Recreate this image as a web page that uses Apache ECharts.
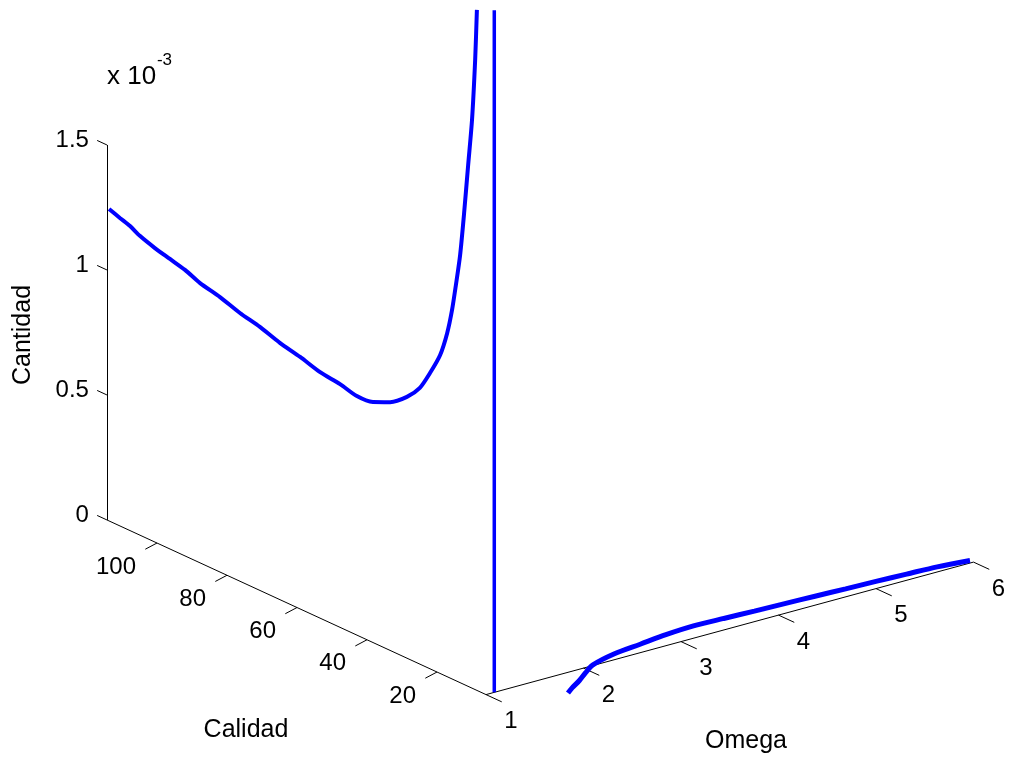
<!DOCTYPE html>
<html><head><meta charset="utf-8">
<script src="https://cdn.jsdelivr.net/npm/echarts@6/dist/echarts.min.js"></script>
<style>html,body{margin:0;padding:0;background:#fff}#chart{width:1012px;height:762px}</style>
</head><body><div id="chart"></div>
<script>
// ---------------- data ----------------
const calidadTicks = [20, 40, 60, 80, 100];
const omegaTicks = [1, 2, 3, 4, 5, 6];
const cantidadTicks = [0, 0.5e-3, 1.0e-3, 1.5e-3];
const cantidadTickLabels = ['0', '0.5', '1', '1.5'];
const calidadRange = [6, 114.3];
const omegaRange = [1, 6];
const cantidadRange = [0, 1.5e-3];

// segment 1 : curve in the Omega = 1 plane
const seg1Calidad = [113.7,110.6,107.7,104.9,100.6,96.3,92.0,87.7,82.0,76.3,70.6,64.9,59.1,53.4,47.7,42.9,38.3,33.4,28.6,24.9,22.0,19.1,17.1,15.7,14.6,13.4,12.3,11.1,10.0,9.1,8.6];
const seg1Omega   = [1,1,1,1,1,1,1,1,1,1,1,1,1,1,1,1,1,1,1,1,1,1,1,1,1,1,1,1,1,1,1];
const seg1Cantidad = [1.248e-3,1.232e-3,1.218e-3,1.197e-3,1.176e-3,1.160e-3,1.144e-3,1.119e-3,1.100e-3,1.073e-3,1.054e-3,1.027e-3,1.008e-3,0.984e-3,0.973e-3,0.956e-3,0.962e-3,0.993e-3,1.045e-3,1.105e-3,1.183e-3,1.274e-3,1.374e-3,1.476e-3,1.583e-3,1.710e-3,1.878e-3,2.085e-3,2.272e-3,2.518e-3,2.722e-3];

// segment 2 : vertical branch
const seg2Calidad = [6, 6];
const seg2Omega = [1.085, 1.085];
const seg2Cantidad = [0, 2.728e-3];

// segment 3 : branch on the floor
const seg3Omega    = [1.55,1.65,1.8,1.95,2.1,2.4,2.7,3.0,3.3,3.6,3.9,4.2,4.5,4.8,5.1,5.4,5.7,6.0];
const seg3Calidad  = [-2.1,-0.5,1.6,4.0,6.2,8.3,9.3,10.3,10.8,10.5,10.1,9.8,9.5,9.1,8.8,8.4,8.0,7.0];
const seg3Cantidad = [0,0,0,0,0,0,0,0,0,0,0,0,0,0,0,0,0,0];

// ---------------- view (orthographic projection) ----------------
const VIEW = { origin: [486, 694.6], perCalidad: [-3.5, -1.6125], perOmega: [97.5, -26.5], perCantidad: [0, -250000] };
function proj(c, w, z) {
  const u = c - calidadRange[0], v = w - omegaRange[0];
  return [
    VIEW.origin[0] + u * VIEW.perCalidad[0] + v * VIEW.perOmega[0] + z * VIEW.perCantidad[0],
    VIEW.origin[1] + u * VIEW.perCalidad[1] + v * VIEW.perOmega[1] + z * VIEW.perCantidad[1]
  ];
}
function seg(cs, ws, zs) { return cs.map((c, i) => proj(c, ws[i], zs[i])); }

const FONT = 'Liberation Sans, Arial, Helvetica, sans-serif';
const BLUE = '#0000ff';

// axes lines
const axisLines = [
  { coords: [proj(calidadRange[0], omegaRange[0], 0), proj(calidadRange[1], omegaRange[0], 0)] },
  { coords: [proj(calidadRange[0], omegaRange[0], 0), proj(calidadRange[0], omegaRange[1], 0)] },
  { coords: [proj(calidadRange[1], omegaRange[0], cantidadRange[0]), proj(calidadRange[1], omegaRange[0], cantidadRange[1])] }
];
const tickLines = [];
calidadTicks.forEach(c => tickLines.push({ coords: [proj(c, omegaRange[0], 0), proj(c, omegaRange[0] - 0.12, -0.012e-3)] }));
omegaTicks.forEach(w => tickLines.push({ coords: [proj(calidadRange[0], w, 0), proj(calidadRange[0] - 4.5, w, 0)] }));
cantidadTicks.forEach(z => tickLines.push({ coords: [proj(calidadRange[1], omegaRange[0], z), proj(calidadRange[1] + 2.8, omegaRange[0], z)] }));

const labelStyle = { color: '#000', fontFamily: FONT, fontSize: 24, opacity: 1 };
const calLabels = calidadTicks.map(c => ({ value: proj(c, omegaRange[0], 0), name: String(c) }));
const omeLabels = omegaTicks.map(w => ({ value: proj(calidadRange[0], w, 0), name: String(w) }));
const canLabels = cantidadTicks.map((z, i) => ({ value: proj(calidadRange[1], omegaRange[0], z), name: cantidadTickLabels[i] }));

const zTop = proj(calidadRange[1], omegaRange[0], cantidadRange[1]);

const chart = echarts.init(document.getElementById('chart'), null, { renderer: 'canvas' });
chart.setOption({
  animation: false,
  backgroundColor: '#fff',
  grid: { left: 0, right: 0, top: 0, bottom: 0 },
  xAxis: { type: 'value', min: 0, max: 1012, show: false },
  yAxis: { type: 'value', min: 0, max: 762, inverse: true, show: false },
  series: [
    { type: 'lines', coordinateSystem: 'cartesian2d', silent: true, data: axisLines, lineStyle: { color: '#000', width: 1, opacity: 1 } },
    { type: 'lines', coordinateSystem: 'cartesian2d', silent: true, data: tickLines, lineStyle: { color: '#000', width: 1, opacity: 1 } },
    { type: 'line', data: seg(seg1Calidad, seg1Omega, seg1Cantidad), showSymbol: false, smooth: 0.25, lineStyle: { color: BLUE, width: 4 } },
    { type: 'line', data: seg(seg2Calidad, seg2Omega, seg2Cantidad), showSymbol: false, lineStyle: { color: BLUE, width: 3.5 } },
    { type: 'line', data: seg(seg3Calidad, seg3Omega, seg3Cantidad), showSymbol: false, smooth: 0.3, lineStyle: { color: BLUE, width: 5 } },
    { type: 'scatter', symbolSize: 0, itemStyle: { opacity: 1 }, data: calLabels, label: Object.assign({ show: true, formatter: '{b}', position: [-21, 24], align: 'right', verticalAlign: 'middle' }, labelStyle) },
    { type: 'scatter', symbolSize: 0, itemStyle: { opacity: 1 }, data: omeLabels, label: Object.assign({ show: true, formatter: '{b}', position: [25, 27], align: 'center', verticalAlign: 'middle' }, labelStyle) },
    { type: 'scatter', symbolSize: 0, itemStyle: { opacity: 1 }, data: canLabels, label: Object.assign({ show: true, formatter: '{b}', position: [-18, -5], align: 'right', verticalAlign: 'middle' }, labelStyle) }
  ],
  graphic: [
    { type: 'text', x: zTop[0], y: zTop[1] - 68, style: { text: 'x 10', font: '26px ' + FONT, fill: '#000', textAlign: 'left', textVerticalAlign: 'middle' } },
    { type: 'text', x: zTop[0] + 50, y: zTop[1] - 85, style: { text: '-3', font: '17px ' + FONT, fill: '#000', textAlign: 'left', textVerticalAlign: 'middle' } },
    { type: 'text', x: 23, y: 335, rotation: Math.PI / 2, style: { text: 'Cantidad', font: '25px ' + FONT, fill: '#000', textAlign: 'center', textVerticalAlign: 'middle' } },
    { type: 'text', x: 246, y: 730, style: { text: 'Calidad', font: '25px ' + FONT, fill: '#000', textAlign: 'center', textVerticalAlign: 'middle' } },
    { type: 'text', x: 746, y: 741, style: { text: 'Omega', font: '25px ' + FONT, fill: '#000', textAlign: 'center', textVerticalAlign: 'middle' } }
  ]
});
</script></body></html>
